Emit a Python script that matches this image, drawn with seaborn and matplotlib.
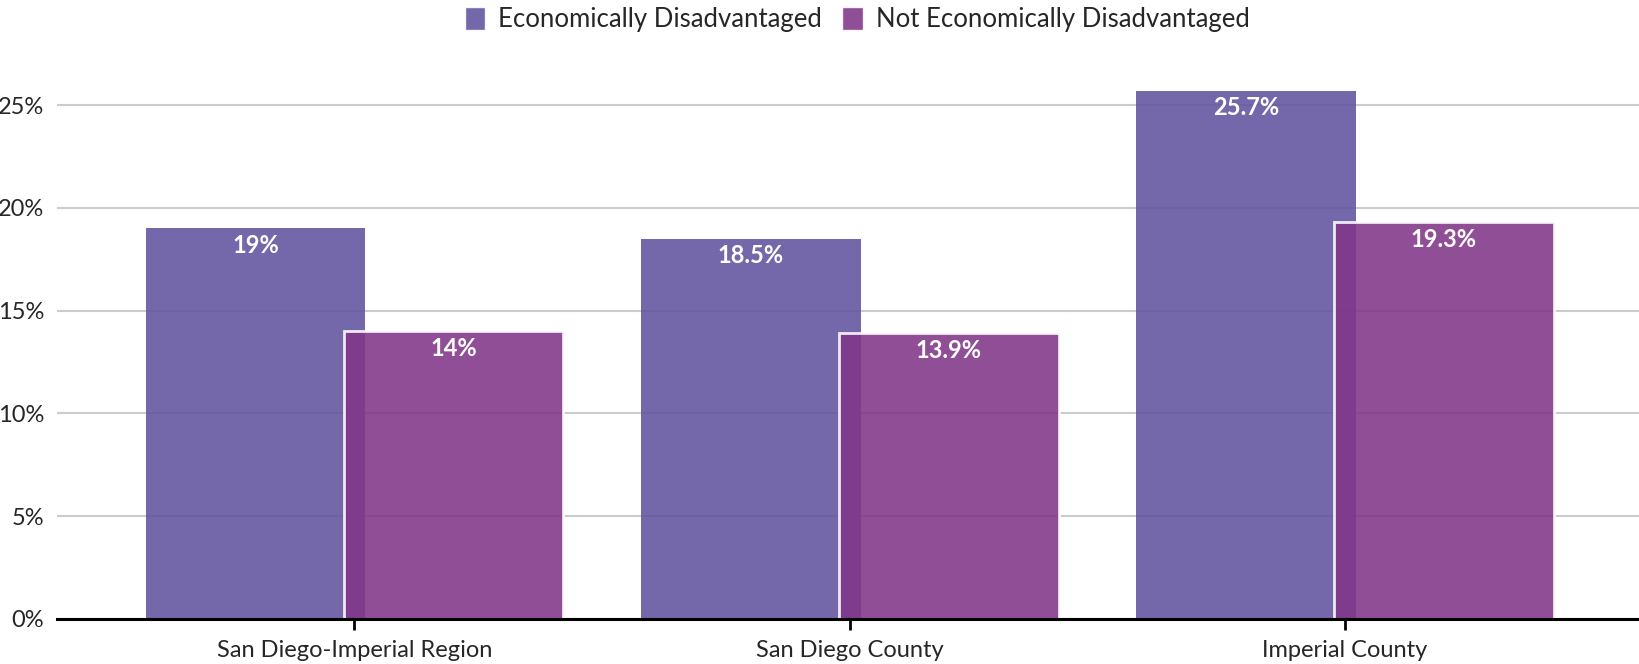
import matplotlib
matplotlib.use("Agg")
import matplotlib.pyplot as plt
import seaborn as sns
import pandas as pd
from matplotlib.patches import Patch

# data
regions = ["San Diego-Imperial Region", "San Diego County", "Imperial County"]
econ_dis = [19.0, 18.5, 25.7]
not_econ_dis = [14.0, 13.9, 19.3]
groups = ["Economically Disadvantaged", "Not Economically Disadvantaged"]
labels_dis = ["19%", "18.5%", "25.7%"]
labels_not = ["14%", "13.9%", "19.3%"]

df = pd.DataFrame({
    "region": regions * 2,
    "group": [groups[0]] * 3 + [groups[1]] * 3,
    "value": econ_dis + not_econ_dis,
})

colors = ["#61539f", "#813588"]

sns.set_style("white")
plt.rcParams["font.family"] = ["Lato", "DejaVu Sans"]

fig = plt.figure(figsize=(16.39, 6.64), dpi=100)
ax = fig.add_axes([0.035, 0.068, 0.965, 0.851])

sns.barplot(data=df, x="region", y="value", hue="group", palette=colors,
            width=0.8, ax=ax, legend=False, saturation=1, alpha=0.88)

# widen bars so the pair overlaps a little, second bar on top with white edge
bar_w = 0.444
for i, p in enumerate(ax.patches):
    cx = p.get_x() + p.get_width() / 2
    p.set_x(cx - bar_w / 2)
    p.set_width(bar_w)
    if i >= 3:
        p.set_edgecolor("white")
        p.set_linewidth(2)
        p.set_zorder(3)
    else:
        p.set_linewidth(0)
        p.set_zorder(2)

for i, p in enumerate(ax.patches):
    lab = (labels_dis + labels_not)[i]
    ax.annotate(lab, (p.get_x() + p.get_width() / 2, p.get_height()),
                xytext=(0, -17), textcoords="offset pixels",
                ha="center", va="center", color="white", fontsize=17,
                fontweight="bold", zorder=5)

ax.set_ylim(0, 27.5)
ax.set_xlim(-0.60, 2.594)
ax.set_yticks([0, 5, 10, 15, 20, 25])
ax.set_yticklabels(["0%", "5%", "10%", "15%", "20%", "25%"])
ax.yaxis.grid(True, color="#cccccc", linewidth=1.5)
ax.set_axisbelow(True)
ax.set_xlabel("")
ax.set_ylabel("")
for s in ["top", "right", "left"]:
    ax.spines[s].set_visible(False)
ax.spines["bottom"].set_color("black")
ax.spines["bottom"].set_linewidth(2.2)
ax.spines["bottom"].set_zorder(6)
ax.tick_params(axis="x", bottom=True, length=8, width=2, color="black",
               labelsize=17, pad=7)
ax.tick_params(axis="y", left=False, labelsize=17, pad=6)

handles = [Patch(facecolor=colors[0], alpha=0.88, label=groups[0]),
           Patch(facecolor=colors[1], alpha=0.88, label=groups[1])]
fig.legend(handles=handles, loc="center", bbox_to_anchor=(0.523, 0.971), ncol=2,
           frameon=False, fontsize=18.5, handlelength=0.8, handleheight=1.0,
           handletextpad=0.5, columnspacing=0.8)

fig.savefig("out.png", dpi=100)
